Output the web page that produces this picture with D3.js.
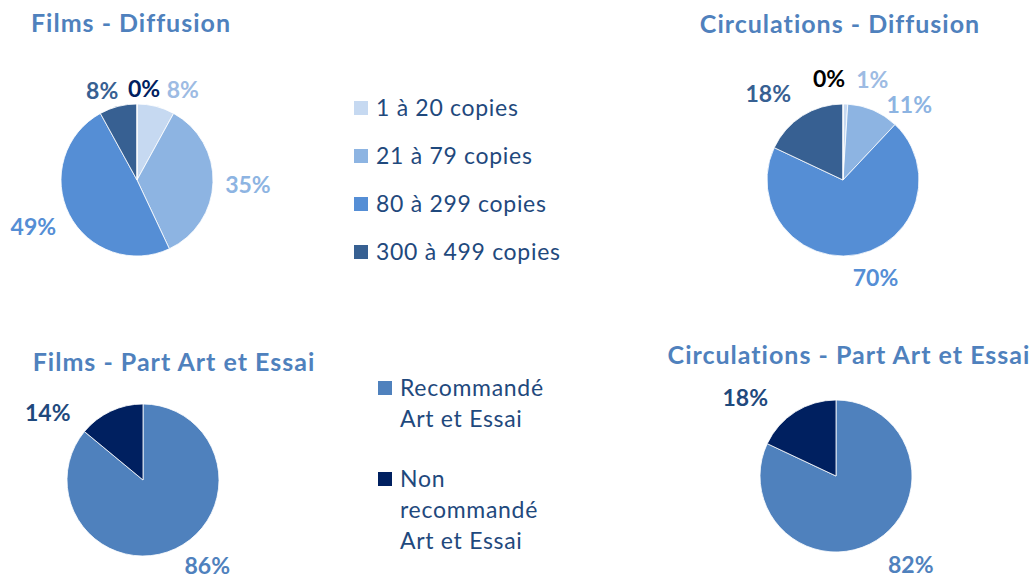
<!DOCTYPE html>
<html>
<head>
<meta charset="utf-8">
<script src="https://cdn.jsdelivr.net/npm/d3@7"></script>
<style>
  body { margin: 0; background: #fff; }
  svg { display: block; font-family: Lato, "Open Sans", sans-serif; }
  .title { font-weight: 700; font-size: 25px; letter-spacing: 1px; fill: #4f81bd; }
  .lab { font-weight: 700; font-size: 23px; }
  .leg { font-size: 23px; letter-spacing: 0.7px; fill: #1f497d; }
</style>
</head>
<body>
<svg id="chart" width="1030" height="578"></svg>
<script>
// diffusion (nombre de copies)
const copyCats = ['1 à 20 copies', '21 à 79 copies', '80 à 299 copies', '300 à 499 copies', '500 copies et plus'];
const filmsDiff = [8, 35, 49, 8, 0];
const circDiff = [1, 11, 70, 18, 0];

// part art et essai
const aeCats = ['Recommandé\nArt et Essai', 'Non\nrecommandé\nArt et Essai'];
const filmsAE = [86, 14];
const circAE = [82, 18];

const copyColors = ['#c6d9f1', '#8db4e2', '#558ed5', '#376092', '#002060'];
const aeColors = ['#4f81bd', '#002060'];

const svg = d3.select('#chart');
const R = 76;

// label colours and nudges (excel "best fit" placement)
const charts = [
  { title: 'Films - Diffusion', tx: 131, ty: 32, cx: 137, cy: 180, vals: filmsDiff, colors: copyColors,
    labCol: ['#9dbbe3', '#8db4e2', '#558ed5', '#376092', '#002060'],
    nudge: [[20, 10], [7, 1], [-11, 0], [-9, 11], [7, 13]] },
  { title: 'Circulations - Diffusion', tx: 840, ty: 33, cx: 843, cy: 180, vals: circDiff, colors: copyColors,
    labCol: ['#9dbbe3', '#8db4e2', '#558ed5', '#376092', '#000000'],
    nudge: [[26, 4], [25, 20], [13, -4], [-19, 2], [-14, 3]] },
  { title: 'Films - Part Art et Essai', tx: 174, ty: 371, cx: 143, cy: 480, vals: filmsAE, colors: aeColors,
    labCol: ['#4f81bd', '#1f497d'],
    nudge: [[20, -8], [-51, 27]] },
  { title: 'Circulations - Part Art et Essai', tx: 849, ty: 364, cx: 836, cy: 476, vals: circAE, colors: aeColors,
    labCol: ['#4f81bd', '#1f497d'],
    nudge: [[19, 1], [-35, 10]] }
];

const pie = d3.pie().sort(null).value(d => d);
const arc = d3.arc().innerRadius(0).outerRadius(R);
const labArc = d3.arc().innerRadius(R + 28).outerRadius(R + 28);

charts.forEach(c => {
  svg.append('text').attr('class', 'title').attr('x', c.tx).attr('y', c.ty)
    .attr('text-anchor', 'middle').text(c.title);
  const g = svg.append('g').attr('transform', `translate(${c.cx},${c.cy})`);
  const arcs = pie(c.vals);
  g.selectAll('path').data(arcs).join('path')
    .attr('d', arc).attr('fill', (d, i) => c.colors[i])
    .attr('stroke', '#fff').attr('stroke-width', 0.8);
  g.selectAll('text').data(arcs).join('text').attr('class', 'lab')
    .attr('text-anchor', 'middle').attr('dy', '0.36em')
    .attr('x', (d, i) => labArc.centroid(d)[0] + c.nudge[i][0])
    .attr('y', (d, i) => labArc.centroid(d)[1] + c.nudge[i][1])
    .attr('fill', (d, i) => c.labCol[i])
    .text(d => d.data + '%');
});

// legende diffusion (4 premieres categories)
const leg1 = svg.append('g');
const ly = d3.scalePoint().domain(copyCats.slice(0, 4)).range([108, 252]);
copyCats.slice(0, 4).forEach((k, i) => {
  leg1.append('rect').attr('x', 354).attr('y', ly(k) - 7).attr('width', 14).attr('height', 14)
    .attr('fill', copyColors[i]);
  leg1.append('text').attr('class', 'leg').attr('x', 376).attr('y', ly(k)).attr('dy', '0.36em').text(k);
});

// legende art et essai
const leg2 = svg.append('g');
const lineH = 31;
let y0 = 388;
aeCats.forEach((k, i) => {
  leg2.append('rect').attr('x', 378).attr('y', y0 - 7).attr('width', 14).attr('height', 14)
    .attr('fill', aeColors[i]);
  const t = leg2.append('text').attr('class', 'leg').attr('x', 400).attr('y', y0);
  const lines = k.split('\n');
  lines.forEach((s, j) => t.append('tspan').attr('x', 400).attr('dy', j ? lineH : '0.36em').text(s));
  y0 += lines.length * lineH + 29;
});
</script>
</body>
</html>
